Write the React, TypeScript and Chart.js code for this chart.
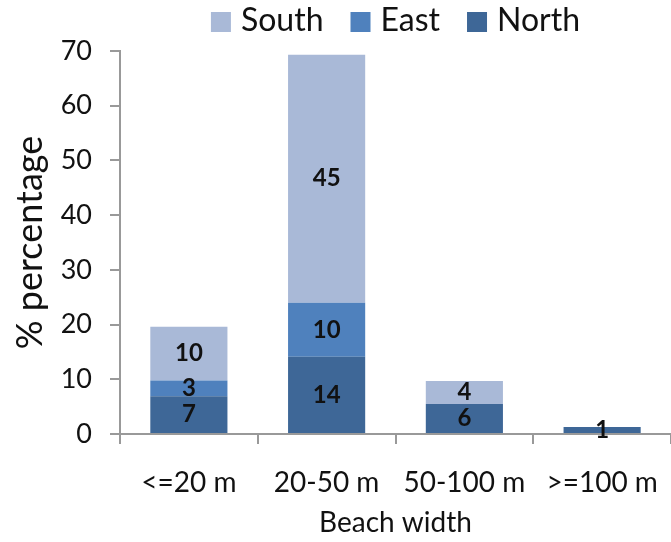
import React, { useEffect, useRef } from "react";
import { Chart, registerables } from "chart.js";

Chart.register(...registerables);

const categories = ["<=20 m", "20-50 m", "50-100 m", ">=100 m"];
const northValues = [6.9, 14.1, 5.5, 1.3];
const eastValues = [2.9, 9.9, 0, 0];
const southValues = [9.8, 45.3, 4.2, 0];
const yMin = 0;
const yMax = 70;
const yStep = 10;

const FONT = "Lato, 'DejaVu Sans', sans-serif";

const segmentLabels = {
  id: "segmentLabels",
  afterDatasetsDraw(chart: any) {
    const ctx = chart.ctx;
    ctx.save();
    ctx.font = `bold 24px ${FONT}`;
    ctx.fillStyle = "#111";
    ctx.textAlign = "center";
    ctx.textBaseline = "middle";
    chart.data.datasets.forEach((ds: any, i: number) => {
      const meta = chart.getDatasetMeta(i);
      if (meta.hidden) return;
      meta.data.forEach((el: any, j: number) => {
        const v = ds.data[j];
        if (!v) return;
        ctx.fillText(String(Math.round(v)), el.x, (el.y + el.base) / 2);
      });
    });
    ctx.restore();
  },
};

const topLegend = {
  id: "topLegend",
  afterDraw(chart: any) {
    const ctx = chart.ctx;
    const box = 20;
    const textGap = 10;
    const itemGap = 27;
    const cy = 22;
    ctx.save();
    ctx.font = `32px ${FONT}`;
    const items = chart.data.datasets.slice().reverse();
    const widths = items.map((d: any) => box + textGap + ctx.measureText(d.label).width);
    const total = widths.reduce((a: number, b: number) => a + b, 0) + itemGap * (items.length - 1);
    const ca = chart.chartArea;
    let x = (ca.left + ca.right) / 2 - total / 2;
    items.forEach((d: any, k: number) => {
      ctx.fillStyle = d.backgroundColor;
      ctx.fillRect(x, cy - box / 2, box, box);
      ctx.fillStyle = "#111";
      ctx.textAlign = "left";
      ctx.textBaseline = "middle";
      ctx.fillText(d.label, x + box + textGap, cy - 1);
      x += widths[k] + itemGap;
    });
    ctx.restore();
  },
};

export default function App() {
  const ref = useRef<HTMLCanvasElement>(null);
  useEffect(() => {
    const chart = new Chart(ref.current!, {
      type: "bar",
      data: {
        labels: categories,
        datasets: [
          { label: "North", data: northValues, backgroundColor: "#3e6797" },
          { label: "East", data: eastValues, backgroundColor: "#4f81bd" },
          { label: "South", data: southValues, backgroundColor: "#a9b9d7" },
        ],
      },
      options: {
        responsive: false,
        animation: false,
        layout: { padding: { top: 51, right: -7, bottom: 0, left: 0 } },
        datasets: { bar: { categoryPercentage: 1, barPercentage: 0.56 } },
        plugins: {
          tooltip: { enabled: false },
          legend: { display: false },
        },
        scales: {
          x: {
            stacked: true,
            afterFit: (s: any) => { s.height = 108; s.paddingRight = 0; s.paddingLeft = 0; },
            grid: { display: true, drawOnChartArea: false, tickLength: 10, color: "#999", lineWidth: 2 },
            border: { color: "#999", width: 2 },
            ticks: { color: "#111", padding: 22, font: { family: FONT, size: 28 }, maxRotation: 0, autoSkip: false },
            title: { display: true, text: "Beach width", color: "#111", font: { family: FONT, size: 28 }, padding: { top: 0, bottom: 2 } },
          },
          y: {
            stacked: true,
            min: yMin,
            max: yMax,
            afterFit: (s: any) => { s.width = 120; s.paddingTop = 0; },
            grid: { display: true, drawOnChartArea: false, tickLength: 10, color: "#999", lineWidth: 2 },
            border: { color: "#999", width: 2 },
            ticks: { stepSize: yStep, color: "#111", padding: 18, font: { family: FONT, size: 27 } },
            title: { display: true, text: "% percentage", color: "#111", font: { family: FONT, size: 36 }, padding: { top: 9, bottom: 0 } },
          },
        },
      },
      plugins: [segmentLabels, topLegend],
    });
    return () => chart.destroy();
  }, []);
  return (
    <div style={{ position: "absolute", left: 0, top: 0, width: 671, height: 542, background: "#fff" }}>
      <canvas ref={ref} width={671} height={542} />
    </div>
  );
}
